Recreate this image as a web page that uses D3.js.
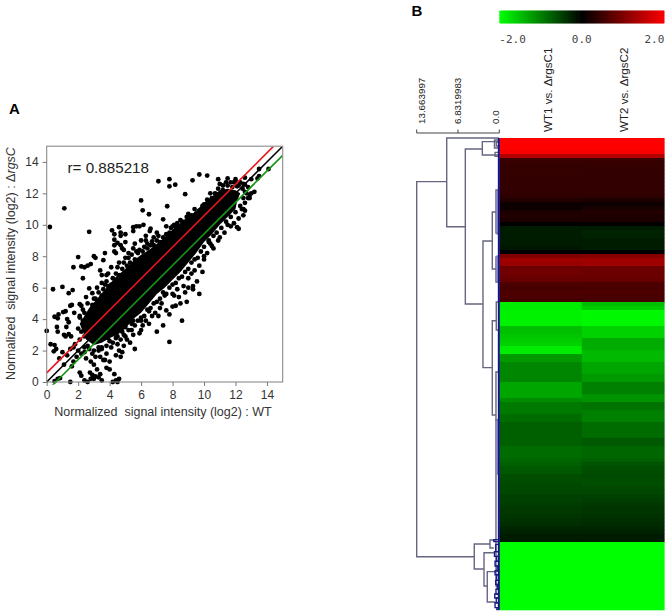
<!DOCTYPE html>
<html>
<head>
<meta charset="utf-8">
<script src="https://cdnjs.cloudflare.com/ajax/libs/d3/7.8.5/d3.min.js"></script>
<style>
  html, body { margin: 0; padding: 0; background: #fff; }
  svg { display: block; }
  text { font-family: "Liberation Sans", Arial, sans-serif; }
</style>
</head>
<body>
<div id="chart-container"></div>
<script>
// Panel A: ticks
const scatterTicks = [0, 2, 4, 6, 8, 10, 12, 14];

// Panel A: where the dots merge into solid black the cloud is traced as an outline
const cloudOutline = [[2.1,3.7],[2.7,4.7],[3.3,5.4],[3.9,6.1],[4.4,6.7],[5,7.2],[5.5,7.7],[6,8.1],[6.5,8.4],[7,8.8],[7.5,9.2],[8,9.7],[8.5,10.1],[9,10.5],[9.5,10.9],[10,11.4],[10.5,11.8],[11,12.2],[11.5,12.3],[12,12.2],[12.3,12],[12.1,11.5],[12,11],[11.5,10.5],[11,10],[10.5,9.4],[10,8.9],[9.5,8.2],[9,7.6],[8.5,7],[8,6.5],[7.5,6],[7,5.6],[6.5,5],[6,4.4],[5.5,4],[5,3.4],[4.5,3],[4,2.8],[3.5,2.5],[3,2.35],[2.5,2.7]];

// Panel A: separate dots (WT, rgsC)
const scatterPoints = [
  [7.1,12.77],[7.8,12.9],[7.8,12.45],[8.17,12.55],[9.27,12.83],[9.7,13.2],[10.2,13.13],[8.8,11.95],[6,11.55],[6.1,10.92],[6.5,10.67],[7.66,11.18],[1.12,11.05],[0.2,9.86],[2.7,9.55],[7.4,10.35],
  [0,3.25],[0.25,2.4],[0.5,2.35],[0.6,2.1],[0.45,1.95],[0.8,1.5],[1,1.9],[1.3,1.7],[1.1,1.1],[1.6,1],[0.5,0.05],[0.4,5.9],[1,6.05],[1.4,5.65],[1.65,5.85],[1.2,4.5],[1.05,4.45],[0.5,4.15],[0.7,4.05],[0.75,4.3],[1.3,4],[1.4,3.8],[1.25,3.5],[0.65,3.5],[0.7,3.2],[1.1,3],[1.2,2.9],[1.4,3.05],[1.55,2.9],[1.6,4.9],[1.5,4.85],[2.1,4.95],[2.2,4.85],[2.3,4.6],[2.1,4.2],[1.75,4.4],[2.3,3.9],[2,3.4],[2.2,3.2],[2.4,2.9],[2.1,2.7],[1.8,2.4],[1.7,2.2],[1.5,2.1],[2,2],[2.2,1.8],[1.9,1.6],[1.7,1.3],[2.4,1.9],[2.5,1.5],[2.8,1.3],[3,1.1],[2.1,0.6],[2.2,0.4],[2.4,0.1],[2.6,0],[1.5,0],[0.7,0.2],[0.85,0.25],[2.75,0.6],[2.9,0.45],[3.1,0.35],[3.3,0.3],[3.4,0.5],[3.2,0.8],[3.5,0.1],[3,0.2],[2.8,0.2],[4.2,0],[4.4,0.1],[4.5,0],[4.6,0.2],[4.3,0.5],[4,0.8],[3.8,0.9],[4,1.3],[3.6,1.4],[3.4,1.6],[3.8,1.8],[4.4,1.7],[4.7,1.6],[4.8,1.9],[4.6,2],[3.1,1.6],[3.3,2],[3.5,2.2],[4.1,2.2],[4.5,2.4],[5.6,2.1],[5.1,2.7],[4.9,3],[5.4,3.3],[5.9,3.1],[6.1,3.6],[6.3,3.9],[7,3.2],[7.4,3.6],[7.8,2.55],[8.6,3.9],[7.1,4.2],[6.7,4.2],[7.8,4.3],[7.6,4.55],[8,4.8],[8.2,4.85],[7.2,4.7],[8.5,5],[8.9,5.1],[9,6],[9.3,5.9],[9.3,6.1],[9.55,6.4],[9.7,5.6],[8.8,5.7],[9.9,7],[10,7.8],[10.5,8.65],[10.9,9],[10.4,8.8],[10.3,9],[11.5,10],[12.2,9.75],[12.1,9.85],[12.5,10.6],[12.6,10.9],[12.4,11],[12.9,11.7],[13.2,12.1],[12.9,11.9],[13,12.9],[13.4,12.95],[13.5,13.1],[13.5,13.55],[14.1,13.55],[12.6,13],[12,12.9],[11.5,12.95],[11.9,12.7],[11,12.6],[10.9,12.9],
  [2,7.95],[1.7,7.3],[2.2,7.35],[2.4,7.3],[2.6,7.4],[2.8,7.5],[3,8],[3.1,7.9],[2.3,6.6],[3.7,8.2],[3.6,7.75],[3.4,7.1],[3.5,6.8],[3.9,6.9],[4.1,7.3],[4.3,8.3],[4.4,8.2],[4.3,8.7],[4.5,8.85],[4.7,8.7],[4.9,8.4],[4.8,8.5],[5,8.9],[5.6,8.8],[5.5,8.5],[5.8,8.2],[4.3,9.05],[4.15,9.65],[4.3,9.4],[4.7,9.3],[4.7,9.5],[4.6,9.85],[5,9.4],[5.5,9.6],[5.5,9.85],[5.7,9.9],[5.9,9.9],[6.15,10],[6.3,9.3],[6.55,9.6],[6.6,9.75],[6.8,9.2],[7,9.5],[6,9],[6.4,8.8],[6.7,8.95],[3.5,6.3],[2.7,5.95],[2.9,5.65],[3,5.3],[2.5,5.4],[3.2,6],[3.7,6.2],
  [7.5,5.5],[8,5.6],[8.3,5.9],[8.7,6.1],[9,6.6],[9.2,6.9],[9.4,7.1],[9.7,7.4],[10,8],[10.2,8.2],[10.6,8.5],[11,9.2],[11.3,9.5],[11.7,9.9],[11.9,10.1],[12.2,10.4],[12.5,11],[6,4.1],[6.5,4.5],[5.5,3.9],[5,3.5],[4.5,2.9],[4,2.6],
  [8.5,10.3],[9,10.7],[9.5,10.7],[10,11.3],[10.5,11.7],[10.6,11.3],[11.2,12.2],[11.5,12.5],[10.8,11.9],[12.2,12.5],[12.5,12.6],[9.1,10.4],[7.7,9.2],[7.3,8.8],[7.9,9.8],[8.1,10],[8.2,9.9],[8.8,10.2],
  // upper edge of the cloud
  [2.1,4.1],[2.4,4.4],[2.6,5],[2.9,4.9],[3.1,5.3],[3.3,5.7],[3.2,4.9],[3.5,5.5],[3.6,5.9],[3.8,6.4],[3.9,6.1],[4.1,6.2],[4.2,6.6],[4.4,6.9],[4.5,7.3],[4.6,6.8],[4.8,7.2],[4.9,7.6],[5.1,7.4],[5.2,7.9],[5.3,7.6],[5.4,8.1],[5.6,7.8],[5.7,8.3],[5.9,8.4],[6.1,8.3],[6.2,8.6],[6.4,8.5],[6.6,8.7],[6.8,8.7],[7,9],[7.2,8.9],[7.4,9.2],[7.6,9.4],[7.8,9.5],[8,9.9],[8.3,10.1],[8.6,10.2],[8.9,10.5],[9.2,10.6],[9.4,11],[9.7,10.9],[9.9,11.2],[10.2,11.6],[10.4,12],[10.7,12],[10.9,12.3],[11.2,12.5],[11.4,12.7],[11.7,12.7],[12,12.75],[12.3,12.7],[12.6,12.55],[12.8,12.4],[11.8,12.4],[12.1,12.45],[12.45,12.3],[12.6,12.1],
  [3.8,6.8],[4.6,7.6],[5.2,8.2],[5,7.9],[6.3,9],[7.1,9.3],[7.6,9.9],
  // lower edge of the cloud
  [2.4,2.2],[2.7,2.1],[3,2],[3.3,2.2],[3.5,2.1],[3.8,2.3],[3.9,2.8],[4.2,2.5],[4.4,2.8],[4.7,2.7],[4.8,3.2],[5,2.9],[5.2,3.3],[5.4,3.7],[5.6,3.6],[5.8,3.9],[6,3.9],[6.2,4.2],[6.4,4.6],[6.6,4.7],[6.8,5],[7,5.1],[7.2,5.3],[7.4,5.7],[7.6,5.6],[7.8,6],[8,6.2],[8.2,6.3],[8.4,6.6],[8.6,6.7],[8.8,7],[9,7.2],[9.2,7.6],[9.4,7.8],[9.6,7.9],[9.8,8.3],[10,8.6],[10.3,8.9],[10.6,9.3],[10.8,9.5],[11.1,9.8],[11.4,10.2],[11.7,10.5],[12,10.8],[12.3,11.2],[12.6,11.4],[12.8,11.7],[13,12],[12.5,11.7],[12.7,12],
  [5.5,3],[6.5,3.7],[6.9,4.4],[7.3,5],[8.1,5.5],[8.4,5.4],[6,3.3],[5.3,2.5],[4.9,2.3],[3.7,1.4],[2.9,1.8],[2.6,2.3]
];

// Panel A: the three reference lines, offset from y = x
const lineOffsets = [0, 0.58, -0.58];
const lineColors = ["#000000", "#e8141c", "#149414"];

// Panel B: heat values per row, one list per column
const heatColumn1 = [
  2,2,2,1.95,1.4,0.45,0.42,0.4,0.42,0.42,0.4,0.38,0.4,0.38,0.35,0.25,0.1,0.12,0.22,0.25,0.2,-0.05,-0.2,-0.22,-0.22,-0.2,-0.2,-0.18,-0.03,1,1.25,1.2,0.85,0.9,0.85,0.8,0.6,0.55,0.6,0.6,0.55,
  -1.85,-1.85,-1.9,-1.9,-1.9,-1.9,-1.5,-1.5,-1.55,-1.6,-1.65,-1.85,-1.85,-1.2,-1.2,-1.05,-1.05,-1.05,-1.05,-1.05,-1.3,-1.3,-1.3,-1.3,-1.1,-0.95,-0.95,-0.95,-0.85,-0.85,-0.75,-0.75,-0.75,-0.75,-0.75,-0.75,-0.85,-0.85,-0.85,
  -0.8,-0.75,-0.7,-0.7,-0.6,-0.6,-0.58,-0.55,-0.55,-0.5,-0.5,-0.48,-0.45,-0.45,-0.42,-0.4,-0.35,-0.3,-0.28,-0.22,-0.2,
  -2,-2,-2,-2,-2,-2,-2,-2,-2,-2,-2,-2,-2,-2,-2,-2,-2
];
const heatColumn2 = [
  2,2,2,1.95,1.4,0.43,0.42,0.42,0.4,0.4,0.4,0.4,0.38,0.38,0.35,0.22,0.08,0.14,0.25,0.22,0.2,-0.05,-0.22,-0.25,-0.25,-0.22,-0.22,-0.2,-0.03,1.05,1.25,1.25,0.85,0.85,0.85,0.8,0.6,0.58,0.6,0.58,0.55,
  -1.5,-1.6,-1.95,-1.95,-1.95,-1.95,-1.65,-1.65,-1.65,-1.35,-1.35,-1.35,-1.45,-1.45,-1.45,-1.3,-1.3,-1.3,-1.2,-1.2,-1,-1,-1,-1.15,-1.15,-0.9,-0.9,-1,-1,-1,-0.85,-0.85,-0.85,-0.85,-0.7,-0.7,-0.8,-0.8,-0.8,
  -0.75,-0.65,-0.62,-0.6,-0.58,-0.6,-0.62,-0.55,-0.55,-0.5,-0.48,-0.45,-0.42,-0.42,-0.4,-0.35,-0.32,-0.3,-0.26,-0.22,-0.2,
  -2,-2,-2,-2,-2,-2,-2,-2,-2,-2,-2,-2,-2,-2,-2,-2,-2
];
const heatColumns = ["WT1 vs. ", "WT2 vs. "];
const colorBarTicks = [-2, 0, 2];

// Panel B: dendrogram scale labels and merges
const distTicks = [13.663997, 6.8319983, 0];
const distLabels = ["13.663997", "6.8319983", "0.0"];
// [distance, top row, bottom row, distance of top child, distance of bottom child]
const merges = [
  [13.664,10.9,104.7,8.7,4.14],
  [8.7,0,22.2,0.1,5.62],
  [5.62,2.75,41.5,2.81,2.7],
  [2.81,0.9,4.25,0.1,0.1],
  [2.7,25.75,57.4,1.16,1.16],
  [1.16,18.5,32.75,0.55,0.55],
  [1.16,45.7,69.25,0.55,0.55],
  [0.55,13,23.75,0.1,0.1],
  [0.55,29.75,36,0.1,0.1],
  [0.55,58.5,70.5,0.1,0.1],
  [0.55,70.5,112,0.1,0.1],
  [0.35,13,24,0.1,0.1],
  [0.35,29.5,36,0.1,0.1],
  [0.35,70.5,84,0.1,0.1],
  [0.8,0.5,2.5,0.1,0.1],
  [0.5,1,2,0.1,0.1],
  [0.7,3.6,4.6,0.1,0.1],
  [0.5,41,48,0.1,0.1],
  [4.14,101.5,107.75,1.54,2.53],
  [1.54,100.5,102.5,0.6,0.9],
  [2.53,103.7,112,0.9,1.99],
  [1.99,108.4,116,0.7,0.7],
  [0.9,100.4,100.9,0.1,0.1],
  [0.6,101.6,103.4,0.1,0.1],
  [0.8,103.4,104.6,0.1,0.1],
  [0.45,104.6,105.8,0.1,0.1],
  [0.7,105.8,107,0.1,0.1],
  [0.35,107,108.2,0.1,0.1],
  [0.7,108.2,109.2,0.1,0.1],
  [0.45,109.2,110.6,0.1,0.1],
  [0.6,110.6,111.6,0.1,0.1],
  [0.35,111.6,112.8,0.1,0.1],
  [0.55,112.8,114,0.1,0.1],
  [0.75,114,115,0.1,0.1],
  [0.5,115,116.2,0.1,0.1],
  [0.7,116.2,117.4,0.1,0.1],
  [0.4,117.4,117.9,0.1,0.1]
];

const svg = d3.select("#chart-container").append("svg")
    .attr("width", 672)
    .attr("height", 615);

const defs = svg.append("defs");
defs.append("filter").attr("id", "soft").append("feGaussianBlur").attr("stdDeviation", 0.5);
defs.append("clipPath").attr("id", "plotClip").append("rect")
    .attr("x", 44).attr("y", 146.7).attr("width", 238.7).attr("height", 238);

// ---- Panel A ----
const x = d3.scaleLinear().domain([0, 15]).range([46.7, 282.7]);
const y = d3.scaleLinear().domain([0, 15]).range([382, 146.2]);

svg.append("text").attr("x", 9).attr("y", 113.5)
    .style("font-size", "15px").style("font-weight", "bold").text("A");

const plot = svg.append("g").attr("clip-path", "url(#plotClip)").attr("filter", "url(#soft)");

plot.append("path")
    .attr("d", d3.line().x(d => x(d[0])).y(d => y(d[1])).curve(d3.curveLinearClosed)(cloudOutline))
    .attr("fill", "#000");

plot.selectAll(".dot")
    .data(scatterPoints)
    .enter().append("circle")
    .attr("class", "dot")
    .attr("cx", d => x(d[0]))
    .attr("cy", d => y(d[1]))
    .attr("r", 2.4)
    .attr("fill", "#000");

plot.selectAll(".refline")
    .data(lineOffsets)
    .enter().append("line")
    .attr("class", "refline")
    .attr("x1", x(0))
    .attr("y1", d => y(d))
    .attr("x2", x(15))
    .attr("y2", d => y(15 + d))
    .attr("stroke", (d, i) => lineColors[i])
    .attr("stroke-width", 1.6);

svg.append("rect")
    .attr("x", x(0)).attr("y", y(15))
    .attr("width", x(15) - x(0)).attr("height", y(0) - y(15))
    .attr("fill", "none").attr("stroke", "#8a8a8a").attr("stroke-width", 1.1);

const xAxis = svg.append("g")
    .attr("transform", "translate(0," + y(0) + ")")
    .call(d3.axisBottom(x).tickValues(scatterTicks).tickSize(4).tickPadding(4));
const yAxis = svg.append("g")
    .attr("transform", "translate(" + x(0) + ",0)")
    .call(d3.axisLeft(y).tickValues(scatterTicks).tickSize(4).tickPadding(4));
[xAxis, yAxis].forEach(a => {
    a.select(".domain").remove();
    a.selectAll("line").attr("stroke", "#777");
    a.selectAll("text").style("font-size", "12px").attr("fill", "#333")
        .style("font-family", '"Liberation Sans", Arial, sans-serif');
});

svg.append("text").attr("x", 163).attr("y", 416)
    .attr("text-anchor", "middle").attr("fill", "#333")
    .style("font-size", "12.5px").attr("xml:space", "preserve")
    .text("Normalized  signal intensity (log2) : WT");

const yLabel = svg.append("text")
    .attr("transform", "translate(15,263.5) rotate(-90)")
    .attr("text-anchor", "middle").attr("fill", "#333")
    .style("font-size", "12.5px").attr("xml:space", "preserve");
yLabel.append("tspan").text("Normalized  signal intensity (log2) : Δ");
yLabel.append("tspan").style("font-style", "italic").text("rgsC");

svg.append("text").attr("x", 67.5).attr("y", 173)
    .attr("fill", "#222").style("font-size", "15.2px").text("r= 0.885218");

// ---- Panel B ----
svg.append("text").attr("x", 411.5).attr("y", 16)
    .style("font-size", "15px").style("font-weight", "bold").text("B");

const heatColor = d3.scaleLinear().domain([-2, 0, 2]).range(["#00ff00", "#000000", "#ff0000"]);

// colour bar
const barX = d3.scaleLinear().domain([-2, 2]).range([499.3, 664.3]);
const barSteps = d3.range(-2, 2, 0.025);
svg.append("g").attr("filter", "url(#soft)").selectAll("rect")
    .data(barSteps)
    .enter().append("rect")
    .attr("x", d => barX(d))
    .attr("y", 10.7)
    .attr("width", d => Math.min(barX(0.06) - barX(0), barX(2) - barX(d)))
    .attr("height", 12.6)
    .attr("fill", d => heatColor(d));

svg.selectAll(".barlabel")
    .data(colorBarTicks)
    .enter().append("text")
    .attr("class", "barlabel")
    .attr("x", d => barX(d))
    .attr("y", 42.5)
    .attr("text-anchor", (d, i) => ["start", "middle", "end"][i])
    .attr("fill", "#444")
    .style("font-family", '"DejaVu Sans Mono", monospace')
    .style("font-size", "11px")
    .text(d => d3.format(".1f")(d).replace("−", "-"));

// heat map
const rowCount = heatColumn1.length;
const rowY = d3.scaleLinear().domain([0, rowCount]).range([138, 610]);
const colX = d3.scaleBand().domain([0, 1]).range([499.3, 664.3]);

const heat = svg.append("g").attr("filter", "url(#soft)");
[heatColumn1, heatColumn2].forEach((values, c) => {
    heat.selectAll(".col" + c)
        .data(values)
        .enter().append("rect")
        .attr("class", "col" + c)
        .attr("x", colX(c))
        .attr("y", (d, i) => rowY(i))
        .attr("width", colX.bandwidth() + 0.3)
        .attr("height", rowY(1) - rowY(0) + 0.3)
        .attr("fill", d => heatColor(d));
});

// column labels
heatColumns.forEach((label, c) => {
    const t = svg.append("text")
        .attr("transform", "translate(" + (552 + c * 76) + ",132) rotate(-90)")
        .attr("fill", "#222").style("font-size", "11.6px");
    t.append("tspan").text(label + "Δ");
    t.append("tspan").text("rgsC" + (c + 1));
});

// dendrogram
const distX = d3.scaleLinear().domain([13.663997, 0]).range([416.7, 499.3]);

const scaleG = svg.append("g").attr("stroke", "#444").attr("fill", "none").attr("stroke-width", 1);
scaleG.append("line").attr("x1", distX(distTicks[0])).attr("x2", distX(0)).attr("y1", 133).attr("y2", 133);
scaleG.selectAll(".disttick")
    .data(distTicks)
    .enter().append("line")
    .attr("class", "disttick")
    .attr("x1", d => distX(d)).attr("x2", d => distX(d))
    .attr("y1", 129.5).attr("y2", 133);

svg.selectAll(".distlabel")
    .data(distLabels)
    .enter().append("text")
    .attr("class", "distlabel")
    .attr("transform", (d, i) => "translate(" + (distX(distTicks[i]) + 8 - (i === 1 ? 5 : i === 2 ? 8 : 0)) + ",124) rotate(-90)")
    .attr("fill", "#222")
    .style("font-size", "9.8px")
    .text(d => d);

const treeColor = (dist, top) => {
    if (top >= 100 && dist < 1) return "#1c1c86";
    if (dist < 0.5) return "#8080c8";
    return "#666680";
};
const tree = svg.append("g").attr("fill", "none");
merges.forEach(m => {
    const [dist, top, bottom, topChild, bottomChild] = m;
    tree.append("path")
        .attr("d", "M" + distX(topChild) + "," + rowY(top) + "H" + distX(dist) + "V" + rowY(bottom) + "H" + distX(bottomChild))
        .attr("stroke", treeColor(dist, top))
        .attr("stroke-width", 1.4);
});
// the leaf level: solid blue edge along the heat map
tree.append("line")
    .attr("x1", distX(0.08)).attr("x2", distX(0.08))
    .attr("y1", rowY(0)).attr("y2", rowY(rowCount))
    .attr("stroke", "#14148a").attr("stroke-width", 2);
</script>
</body>
</html>
